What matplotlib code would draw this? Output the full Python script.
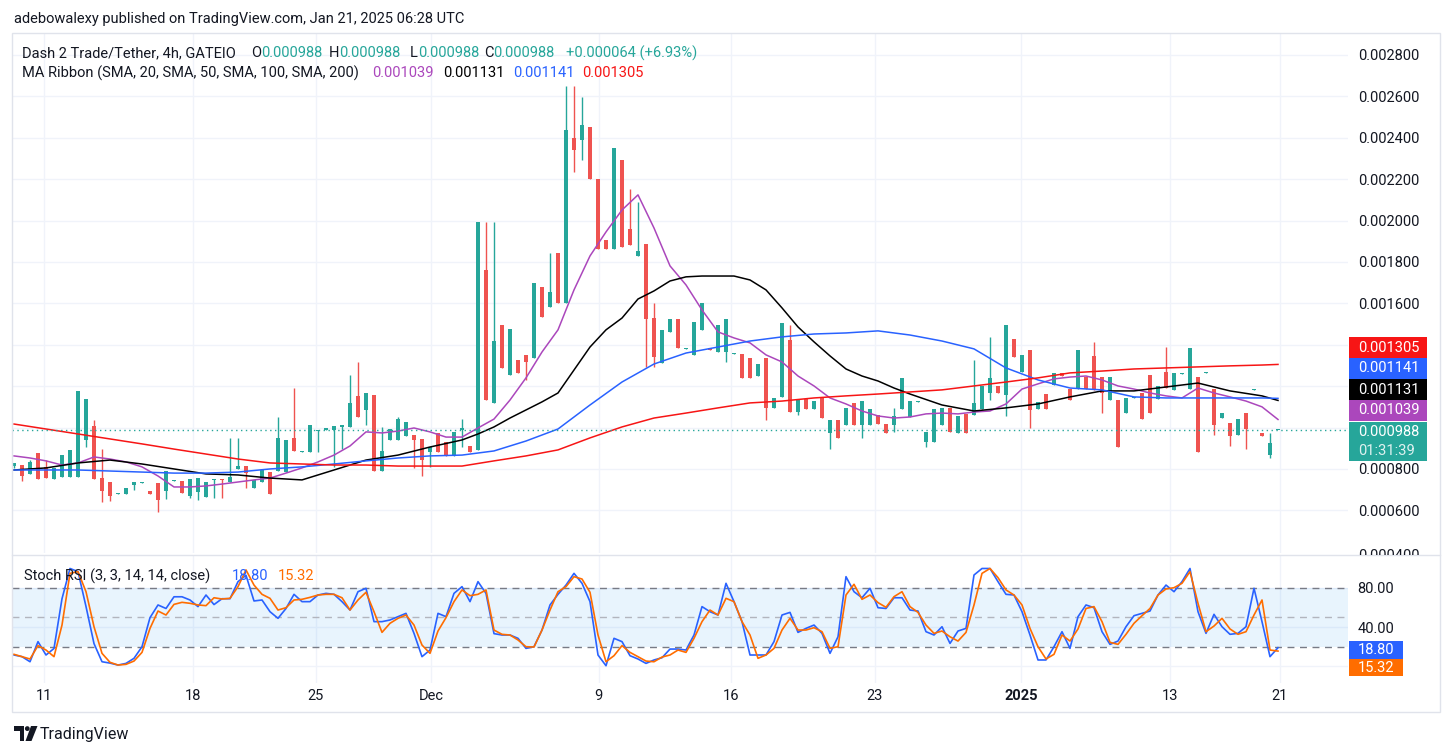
import numpy as np
import matplotlib
matplotlib.use("Agg")
import matplotlib.pyplot as plt
from matplotlib.patches import Rectangle, Circle, Polygon
from matplotlib.transforms import Bbox, TransformedBbox

plt.rcParams['font.family'] = ['Roboto', 'DejaVu Sans']

TEAL = '#26a69a'
RED = '#ef5350'
INK = '#131722'

# 4h candles (one entry per bar), prices in millionths of USDT
opens = [814, 819, 776, 877, 810, 752, 761, 761, 761, 940,
         1008, 756, 737, 679, 679, 723, 732, 694, 732, 694,
         742, 742, 670, 689, 665, 747, 752, 737, 800, 814,
         708, 737, 785, 790, 785, 950, 882, 882, 983, 988,
         988, 1003, 1003, 1153, 1085, 1157, 790, 940, 940, 959,
         964, 945, 882, 974, 930, 863, 988, 911, 892, 1761,
         1119, 1496, 1254, 1327, 1351, 1336, 1679, 1583, 1843, 1602,
         2399, 2389, 2452, 2201, 1906, 1863, 2293, 1959, 1829, 1887,
         1529, 1312, 1462, 1525, 1380, 1351, 1471, 1384, 1365, 1365,
         1355, 1355, 1336, 1249, 1336, 1095, 1148, 1423, 1075, 1138,
         1090, 1143, 974, 1037, 1013, 1119, 1013, 1013, 1061, 1017,
         1013, 1090, 1051, 1124, 930, 930, 1013, 1095, 974, 1066,
         1061, 1090, 1167, 1201, 1157, 1428, 1269, 1375, 1090, 1162,
         1206, 1264, 1186, 1186, 1244, 1346, 1244, 1133, 1133, 1070,
         1143, 1167, 1254, 1138, 1269, 1182, 1259, 1186, 1244, 1264,
         1186, 1046, 1022, 964, 1070, 1182, 974, 867, 988]
closes = [829, 766, 834, 752, 756, 805, 867, 892, 1177, 1138,
          752, 694, 670, 684, 708, 737, 737, 679, 650, 790,
          747, 684, 752, 756, 737, 752, 747, 761, 814, 780,
          747, 795, 679, 950, 940, 887, 887, 1013, 988, 998,
          1008, 1013, 1119, 1051, 1167, 790, 887, 993, 1041, 1027,
          940, 843, 906, 882, 863, 979, 998, 882, 1993, 1133,
          1418, 1288, 1476, 1264, 1317, 1698, 1534, 1655, 1602, 2438,
          2341, 2462, 2201, 1863, 1863, 2351, 1872, 1882, 1853, 1525,
          1341, 1471, 1525, 1384, 1384, 1510, 1602, 1375, 1496, 1525,
          1360, 1240, 1240, 1307, 1095, 1143, 1505, 1075, 1133, 1090,
          1128, 1046, 1037, 950, 1095, 1013, 1128, 1090, 1017, 974,
          1056, 1240, 1128, 1128, 979, 1090, 1095, 979, 1056, 974,
          1119, 1201, 1240, 1167, 1496, 1341, 1351, 1085, 1124, 1090,
          1264, 1249, 1133, 1375, 1186, 1182, 1167, 1244, 906, 1143,
          1148, 1041, 1070, 1201, 1191, 1264, 1264, 1384, 882, 1269,
          1013, 1070, 959, 1041, 993, 1186, 959, 924, 988]
wick_high = {2: 843, 4: 843, 10: 1037, 11: 896, 27: 950, 28: 950, 33: 1051,
             35: 1191, 42: 1254, 43: 1317, 46: 1003, 48: 1051, 56: 1041,
             59: 1993, 60: 1993, 67: 1843, 69: 2650, 70: 2650, 71: 2597,
             77: 2153, 78: 2090, 80: 1602, 97: 1496, 110: 1095, 120: 1327,
             122: 1438, 135: 1414, 144: 1389, 157: 974}
wick_low = {0: 805, 1: 742, 9: 906, 11: 640, 12: 645, 15: 698, 18: 592,
            19: 655, 22: 660, 23: 650, 25: 660, 26: 660, 29: 708, 38: 882,
            40: 810, 41: 896, 44: 1013, 50: 805, 51: 766, 52: 810, 56: 906,
            64: 1230, 70: 2235, 71: 2293, 79: 1293, 80: 1293, 89: 1317,
            94: 1037, 98: 1061, 102: 896, 106: 950, 110: 979, 114: 906,
            122: 1133, 124: 1056, 127: 998, 136: 1070, 150: 964, 152: 911,
            154: 896, 157: 853}

# MA ribbon at the listed bars, millionths of USDT
ma_bars = list(range(0, 157, 4)) + [158]
sma100 = [795, 795, 795, 790, 785, 780, 780, 785, 800, 810,
          824, 839, 853, 863, 867, 887, 935, 993, 1109, 1220,
          1307, 1360, 1389, 1418, 1438, 1452, 1457, 1467, 1447, 1418,
          1380, 1288, 1230, 1191, 1182, 1148, 1143, 1143, 1143, 1143, 1141]
sma200 = [1017, 993, 969, 945, 921, 896, 872, 848, 829, 824,
          819, 819, 814, 814, 814, 839, 863, 892, 950, 1003,
          1046, 1070, 1095, 1119, 1128, 1143, 1153, 1162, 1172, 1182,
          1201, 1220, 1240, 1264, 1273, 1283, 1288, 1293, 1298, 1302, 1305]
sma50_bars = (list(range(0, 53, 4)) + list(range(56, 113, 2))
              + list(range(116, 157, 4)) + [158])
sma50 = [795, 805, 829, 843, 824, 800, 776, 771, 756, 747, 795, 843, 867, 906,
         940, 969, 1003, 1046, 1085, 1124, 1167, 1278, 1389, 1472,
         1529, 1621, 1660, 1708, 1728, 1732, 1732, 1732, 1713, 1665,
         1578, 1486, 1414, 1346, 1283, 1249, 1225, 1191, 1162,
         1109, 1080, 1095, 1114, 1148, 1177, 1177, 1196, 1215, 1177, 1153,
         1131]
sma20_bars = list(range(0, 159, 2))
sma20 = [863, 853, 839, 819, 829, 858, 848, 834, 810, 766,
         713, 713, 718, 727, 737, 747, 756, 780, 805, 834,
         867, 911, 979, 974, 983, 998, 979, 954, 954, 998,
         1041, 1133, 1240, 1365, 1472, 1665, 1829, 1945, 2051, 2124,
         1964, 1781, 1689, 1568, 1462, 1433, 1409, 1351, 1317, 1249,
         1201, 1143, 1114, 1080, 1056, 1046, 1051, 1066, 1070, 1066,
         1075, 1080, 1114, 1186, 1211, 1235, 1244, 1249, 1230, 1201,
         1186, 1167, 1153, 1143, 1191, 1167, 1148, 1128, 1100, 1039]

# Stoch RSI (3, 3, 14, 14), one value per bar
stoch_k = [11.3, 9.6, 4.4, 25, 11.3, 18, 69, 100, 96.8, 61,
           23, 4.4, 3, 1, 2.7, 7.9, 19.8, 49.6, 62.6, 59,
           71, 71, 67.7, 60.9, 72.8, 63, 69, 69, 86.5, 93,
           66.7, 67.7, 55.7, 48.9, 59, 73.5, 66, 66, 72.8, 74.5,
           73.5, 66, 57.4, 76.2, 79.7, 45.5, 45.5, 47.2, 50.6, 54,
           33.5, 9.6, 16.4, 54, 50.6, 74.5, 81.4, 66, 86.5, 74.5,
           33.2, 31.8, 31.8, 28.4, 18.1, 19.8, 36.9, 62.6, 73.5, 83,
           95, 84.8, 66, 11.3, 0.3, 28.4, 25, 10.6, 7.2, 2.7,
           6.2, 8.5, 17.4, 17.4, 16.4, 31.8, 60.9, 55.7, 52.3, 84.8,
           66, 45.5, 11.3, 11.3, 11.3, 25, 52.3, 55, 34.5, 38.6,
           42, 33.5, 13, 30, 91.6, 76.2, 70, 79.7, 59.8, 59,
           70, 70, 57.4, 56.4, 35.2, 31.8, 40.3, 23.2, 35.9, 38.6,
           93.3, 100, 100, 86.5, 73.5, 72.8, 55.7, 31.8, 6.2, 6.2,
           19.8, 35.2, 18.1, 50.6, 62.6, 59.8, 35.2, 22.2, 25.6, 40.3,
           51.6, 54, 56.4, 72.8, 83, 76.2, 86.5, 100, 55.7, 33.5,
           53, 40.3, 32.5, 33.5, 40.3, 79.7, 45.5, 9.6, 18.80]
stoch_d = [12, 9.6, 7.2, 20.9, 16.4, 9.6, 42, 95, 96.8, 76.2,
           40.3, 13, 3.8, 1, 1.7, 5.1, 14, 38.6, 56.4, 52.3,
           63.2, 65.3, 64.3, 62.6, 61.9, 70, 68.7, 69.4, 81.4, 98.5,
           83, 73.5, 69.4, 57.4, 59.8, 67.7, 68.4, 70.4, 72.8, 73.5,
           73.5, 70, 57.4, 67.7, 75.6, 55.7, 34.5, 43.8, 48.9, 52.3,
           42, 21.5, 13, 35.9, 49.6, 66, 78, 72.1, 73.5, 78,
           36.9, 32.5, 31.8, 26.7, 19.8, 19.5, 36.9, 57.4, 76.2, 81.4,
           91.6, 89.2, 75.6, 31.8, 4.4, 10.6, 20.9, 14, 9.6, 5.1,
           4.4, 9.2, 11.3, 16.4, 14, 28.4, 45.5, 57.4, 52.3, 69.4,
           66, 45.5, 31.8, 7.9, 11.3, 18.1, 36.9, 48.9, 36.9, 36.9,
           39.3, 35.2, 18.1, 19.8, 72.8, 83.8, 68.4, 72.8, 65, 60.2,
           71.1, 76.2, 60.9, 55, 42, 33.5, 35.9, 30, 25.6, 34.5,
           62.6, 95, 100, 90.6, 78, 72.8, 62.6, 38.6, 19.8, 7.2,
           12, 31.8, 25.6, 38, 59, 60.9, 45.5, 24.3, 22.2, 32.5,
           43.8, 51.6, 59, 72.8, 79, 80.3, 84.8, 96.8, 64.3, 35.2,
           41, 48.9, 38, 32.5, 35.2, 52.3, 67.7, 16.4, 15.32]

date_pos = [3.75, 22.4, 37.75, 52.1, 73.1, 89.6, 107.6, 125.9, 144.5, 158.25]
date_labels = ['11', '18', '25', 'Dec', '9', '16', '23', '2025', '13', '21']
price_ticks = [0.0006, 0.0008, 0.0010, 0.0012, 0.0014, 0.0016, 0.0018,
               0.0020, 0.0022, 0.0024, 0.0026, 0.0028]

W, H = 1453, 756
fig = plt.figure(figsize=(W / 100, H / 100), dpi=100)


def box(l, t, r, b):
    return [l / W, 1 - b / H, (r - l) / W, (b - t) / H]


ax = fig.add_axes(box(12, 33, 1348, 553))
ax2 = fig.add_axes(box(12, 556, 1348, 683))
deco = fig.add_axes([0, 0, 1, 1])
deco.set_xlim(0, W)
deco.set_ylim(H, 0)
deco.axis('off')
deco.set_zorder(10)

# candles
o = np.array(opens) * 1e-6
c = np.array(closes) * 1e-6
hi = np.maximum(o, c)
lo = np.minimum(o, c)
for k, v in wick_high.items():
    hi[k] = max(hi[k], v * 1e-6)
for k, v in wick_low.items():
    lo[k] = min(lo[k], v * 1e-6)
x = np.arange(len(o))
cols = np.where(c >= o, TEAL, RED)
ax.vlines(x, lo, hi, colors=cols, linewidth=1, zorder=2)
ax.bar(x, np.maximum(np.abs(c - o), 0.0000055), bottom=np.minimum(o, c),
       width=0.6, color=cols, linewidth=0, zorder=2)

# MA ribbon
ax.plot(sma20_bars, np.array(sma20) * 1e-6, color='#ab47bc', lw=1.1, zorder=3)
ax.plot(sma50_bars, np.array(sma50) * 1e-6, color='#000000', lw=1.1, zorder=3)
ax.plot(ma_bars, np.array(sma100) * 1e-6, color='#2962ff', lw=1.1, zorder=3)
ax.plot(ma_bars, np.array(sma200) * 1e-6, color='#f71515', lw=1.1, zorder=3)
ax.axhline(c[-1], color=TEAL, lw=1, linestyle=(0, (1, 2.5)), zorder=3)

ax.set_xlim(-0.25, 166.75)
ax.set_ylim(0.000394, 0.002906)
ax.set_yticks(price_ticks)
ax.set_yticklabels([f'{v:.6f}' for v in price_ticks])
ax.grid(axis='y', color='#f0f3fa', lw=1)

# Stoch RSI
ax2.axhspan(20, 80, color='#2196f3', alpha=0.1, lw=0)
ax2.axhline(80, color='#787b86', lw=1, dashes=(5, 4))
ax2.axhline(20, color='#787b86', lw=1, dashes=(5, 4))
ax2.axhline(50, color='#b2b5be', lw=1, dashes=(5, 4))
ax2.axhline(0, color='#f0f3fa', lw=1, zorder=0)
ax2.plot(x, stoch_k, color='#2962ff', lw=1.2)
ax2.plot(x, stoch_d, color='#ff6d00', lw=1.2)
ax2.set_xlim(-0.25, 166.75)
ax2.set_ylim(-17.4, 112.8)
ax2.set_yticks([40, 80])
ax2.set_yticklabels(['40.00', '80.00'])
ax2.grid(axis='y', color='#f0f3fa', lw=1)

for a in (ax, ax2):
    for s in a.spines.values():
        s.set_visible(False)
    a.set_axisbelow(True)
    a.yaxis.tick_right()
    a.set_xticks(date_pos)
    a.grid(axis='x', color='#f0f3fa', lw=1)
    a.tick_params(length=0, labelsize=10.5, labelcolor=INK)
    a.tick_params(axis='y', pad=7)
ax.tick_params(labelbottom=False)
ax2.set_xticklabels(date_labels)
ax2.tick_params(axis='x', pad=4)
for t in ax2.get_xticklabels():
    if t.get_text() == '2025':
        t.set_fontweight('bold')

# frame and pane separator
deco.add_patch(Rectangle((12, 33), 1428, 679, fill=False, ec='#e0e3eb', lw=1))
deco.plot([12, 1440], [555, 555], color='#e0e3eb', lw=1)

# lowest price label, cut by the pane edge as in TradingView
t400 = deco.text(1358, 556, '0.000400', fontsize=10.5, color=INK, va='center')
t400.set_clip_box(TransformedBbox(Bbox([[1340, 33], [1440, 554.5]]), deco.transData))
t400.set_clip_on(True)


def tag(top, bottom, right, color, lines):
    deco.add_patch(Rectangle((1349, top), right - 1349, bottom - top,
                             color=color, lw=0))
    step = (bottom - top) / len(lines)
    for j, (txt, alpha) in enumerate(lines):
        deco.text(1358, top + step * (j + 0.5), txt, fontsize=10.5,
                  color='white', alpha=alpha, va='center')


tag(337, 358, 1427, '#f71515', [(f'{sma200[-1] * 1e-6:.6f}', 1)])
tag(358, 379, 1427, '#2962ff', [(f'{sma100[-1] * 1e-6:.6f}', 1)])
tag(379, 400, 1427, '#000000', [(f'{sma50[-1] * 1e-6:.6f}', 1)])
tag(400, 421, 1427, '#ab47bc', [(f'{sma20[-1] * 1e-6:.6f}', 1)])
tag(422, 461, 1427, TEAL, [(f'{c[-1]:.6f}', 1), ('01:31:39', 0.85)])
tag(641, 659, 1403, '#2962ff', [(f'{stoch_k[-1]:.2f}', 1)])
tag(659, 676, 1403, '#ff6d00', [(f'{stoch_d[-1]:.2f}', 1)])

# texts
renderer = fig.canvas.get_renderer()


def run(x0, y0, parts, size=10.5):
    for txt, color in parts:
        t = deco.text(x0, y0, txt, color=color, fontsize=size, va='center')
        x0 += t.get_window_extent(renderer).width
    return x0


run(14, 19, [('adebowalexy published on TradingView.com, Jan 21, 2025 06:28 UTC', INK)])
run(22, 53, [('Dash 2 Trade/Tether, 4h, GATEIO', INK)])
run(251, 53, [('O', INK), (f'{o[-1]:.6f}', TEAL)])
run(329, 53, [('H', INK), (f'{hi[-1]:.6f}', TEAL)])
run(410, 53, [('L', INK), (f'{lo[-1]:.6f}', TEAL)])
run(484, 53, [('C', INK), (f'{c[-1]:.6f}', TEAL)])
chg = c[-1] - c[-2]
run(566, 53, [(f'+{chg:.6f} (+{chg / c[-2] * 100:.2f}%)', TEAL)])
run(22, 73, [('MA Ribbon (SMA, 20, SMA, 50, SMA, 100, SMA, 200)', INK)])
run(372, 73, [(f'{sma20[-1] * 1e-6:.6f}', '#ab47bc')])
run(443, 73, [(f'{sma50[-1] * 1e-6:.6f}', '#000000')])
run(513, 73, [(f'{sma100[-1] * 1e-6:.6f}', '#2962ff')])
run(582, 73, [(f'{sma200[-1] * 1e-6:.6f}', '#f71515')])
run(24, 576, [('Stoch RSI (3, 3, 14, 14, close)', INK)])
run(232, 576, [(f'{stoch_k[-1]:.2f}', '#2962ff')])
run(278, 576, [(f'{stoch_d[-1]:.2f}', '#ff6d00')])

# TradingView logo
deco.add_patch(Polygon([(14, 726), (24, 726), (24, 741), (19.5, 741),
                        (19.5, 730.5), (14, 730.5)], color=INK, lw=0))
deco.add_patch(Circle((27.3, 728.6), 2.4, color=INK, lw=0))
deco.add_patch(Polygon([(31, 726), (37.5, 726), (31.5, 741), (25.5, 741)],
                       color=INK, lw=0))
deco.text(40, 734, 'TradingView', fontsize=11.5, color=INK, va='center')

fig.savefig('out.png', dpi=100, facecolor='white')
